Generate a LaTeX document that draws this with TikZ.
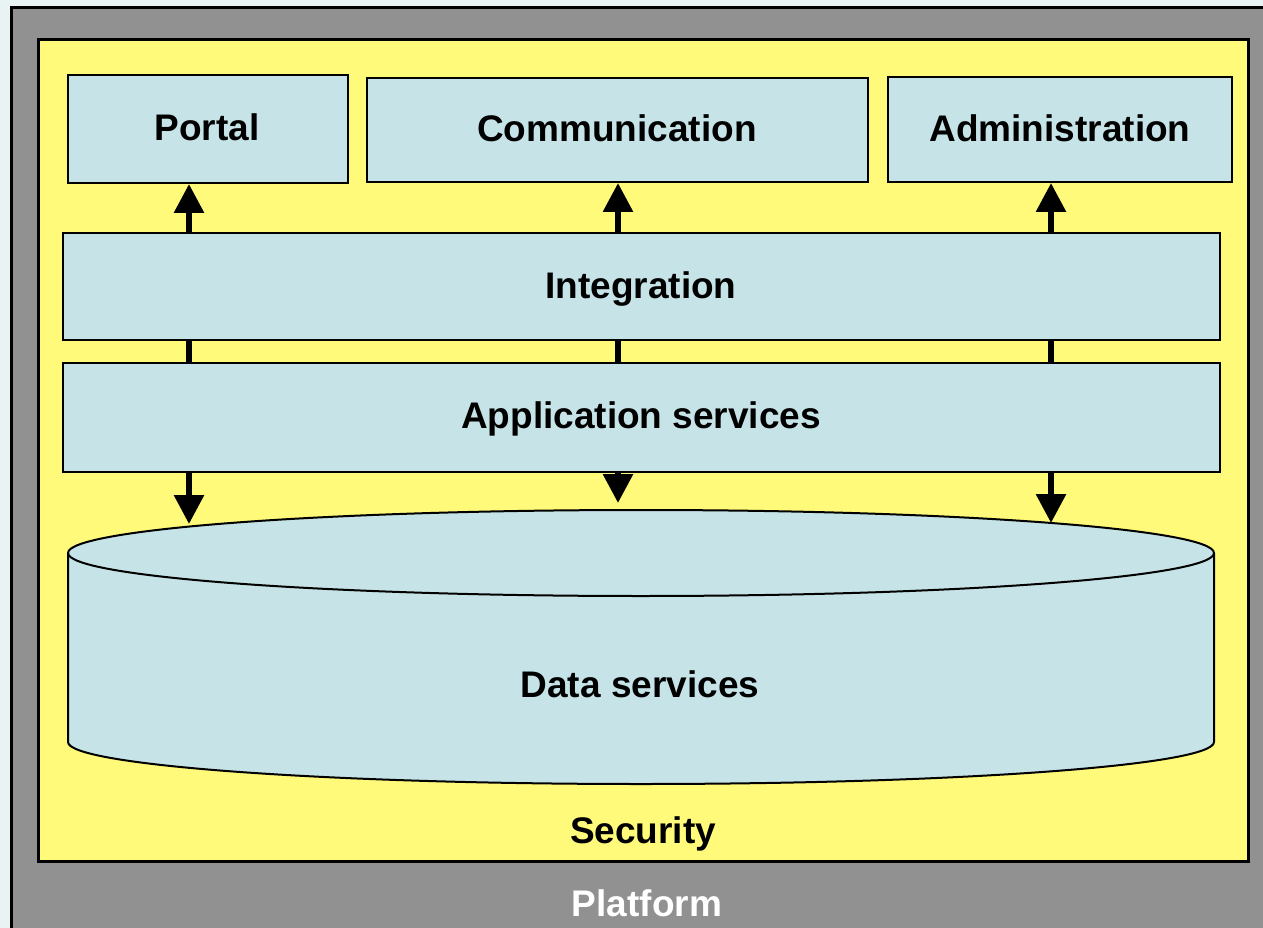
\documentclass[tikz,border=0pt]{standalone}
\usepackage{fontspec}
\setmainfont{Liberation Sans}
\usetikzlibrary{arrows.meta,calc}
\definecolor{bgc}{HTML}{EAF3F3}
\definecolor{platgray}{HTML}{919191}
\definecolor{secyellow}{HTML}{FFFA7A}
\definecolor{boxblue}{HTML}{C6E4E8}
\tikzset{
  lbl/.style={font=\fontsize{37}{40}\selectfont\bfseries, inner sep=0pt},
  box/.style={draw=black, line width=2pt, fill=boxblue, inner sep=0pt},
  conn/.style={line width=6pt, -{Triangle[width=29pt,length=29pt]}},
  bar/.style={line width=6pt}
}
\begin{document}
\begin{tikzpicture}[x=1pt,y=-1pt]
\useasboundingbox (0,0) rectangle (1263,928);
\fill[bgc] (0,0) rectangle (1263,928);
\begin{scope}
\clip (0,0) rectangle (1263,928);
\draw[line width=3pt, fill=platgray] (11,8) rectangle (1280,945);
\end{scope}
\draw[line width=3pt, fill=secyellow] (38,40) rectangle (1248,861);
% top boxes
\node[box, minimum width=280pt, minimum height=108pt] (portal) at (208,129) {};
\node[box, minimum width=501pt, minimum height=104pt] (comm) at (617.5,130) {};
\node[box, minimum width=344pt, minimum height=105pt] (admin) at (1060,129.5) {};
\node[lbl] (tportal) at (207,127) {Portal};
\node[lbl] (tcomm) at (617,128) {Communication};
\node[lbl] (tadmin) at (1060,128) {Administration};
% layers
\node[box, minimum width=1157pt, minimum height=107pt] (integ) at (641.5,286.5) {};
\node[lbl] (tinteg) at (641,289) {Integration};
\node[box, minimum width=1157pt, minimum height=109pt] (app) at (641.5,417.5) {};
\node[lbl] (tapp) at (641,419) {Application services};
% cylinder
\path[box] (68,553) -- (68,742)
  arc[start angle=180, end angle=360, x radius=573pt, y radius=42pt]
  -- (1214,553)
  arc[start angle=0, end angle=180, x radius=573pt, y radius=43pt] -- cycle;
\draw[line width=2pt] (68,553) arc[start angle=180, end angle=360, x radius=573pt, y radius=43pt];
\node[lbl] (data) at (640,684) {Data services};
% arrow x positions
\coordinate (x1) at (189,0);
\coordinate (x2) at (618,0);
\coordinate (x3) at (1051,0);
\coordinate (d1) at (189,524);
\coordinate (d2) at (618,503);
\coordinate (d3) at (1051,523);
% up arrows
\draw[conn] (integ.north -| x1) -- (portal.south -| x1);
\draw[conn] (integ.north -| x2) -- (comm.south -| x2);
\draw[conn] (integ.north -| x3) -- (admin.south -| x3);
% links
\draw[bar] (integ.south -| x1) -- (app.north -| x1);
\draw[bar] (integ.south -| x2) -- (app.north -| x2);
\draw[bar] (integ.south -| x3) -- (app.north -| x3);
% down arrows
\draw[conn] (app.south -| x1) -- (d1);
\draw[conn] (app.south -| x2) -- (d2);
\draw[conn] (app.south -| x3) -- (d3);
% labels
\node[lbl] (security) at (643,834) {Security};
\node[lbl, text=white] (platform) at (647,903) {Platform};
\end{tikzpicture}
\end{document}
